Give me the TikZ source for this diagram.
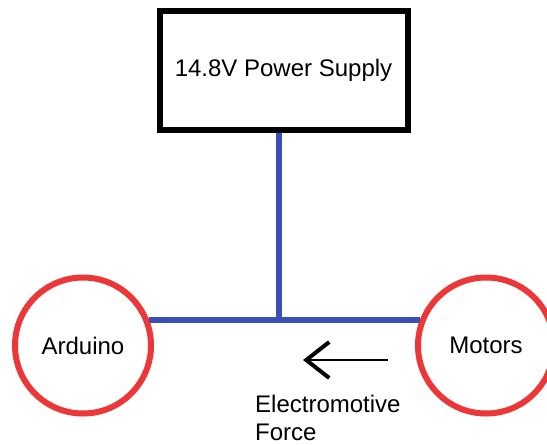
\documentclass[tikz,border=0pt]{standalone}
\usepackage{fontspec}
\setmainfont{Liberation Sans}
\usetikzlibrary{arrows.meta}
\definecolor{ringred}{RGB}{236,54,56}
\definecolor{wireblue}{RGB}{58,78,180}
\tikzset{supplybox/.style={draw=black,line width=6pt,fill=white,minimum width=248pt,minimum height=119pt,inner sep=0pt},
  part/.style={circle,draw=ringred,line width=6pt,fill=white,minimum size=136pt,inner sep=0pt},
  wire/.style={draw=wireblue,line width=6pt},
  emf/.style={{Straight Barb[length=23pt,width=36pt,line width=4pt]}-,line width=2pt},
  label/.style={font=\fontsize{24}{28}\selectfont}}

\begin{document}
\begin{tikzpicture}[x=1pt,y=-1pt]
  \useasboundingbox (0,0) rectangle (547,445);
  \coordinate (junc) at (279,320);
  \coordinate (emftail) at (388,360);
  \coordinate (emftip) at (303,360);
  \draw[wire] (junc) -- ++(0,-190);
  \node[supplybox,label] (psu) at (283.5,70) {14.8V Power Supply};
  \node[part,label] (arduino) at (83,345.5) {Arduino};
  \node[part,label] (motors) at (486,345.5) {Motors};
  \draw[wire] (arduino.21) -- (motors.159);
  \draw[emf] (emftip) -- (emftail);
  \node[label,align=left,anchor=north west,inner sep=0pt] (emflabel) at (255,394.5) {Electromotive\\Force};
\end{tikzpicture}
\end{document}
